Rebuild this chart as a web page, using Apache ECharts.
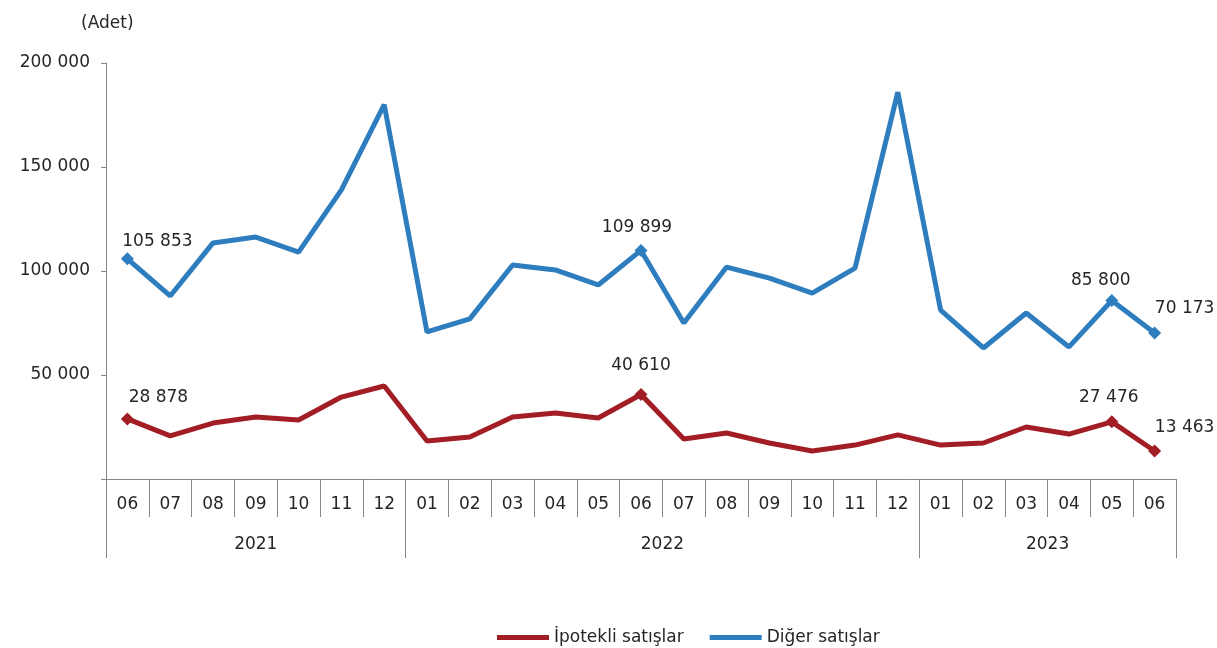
<!DOCTYPE html>
<html><head><meta charset="utf-8">
<script src="https://cdn.jsdelivr.net/npm/echarts@6/dist/echarts.min.js"></script>
<style>html,body{margin:0;padding:0;background:#fff}#c{width:1217px;height:648px}</style>
</head><body><div id="c"></div>
<script>
const months = ['06','07','08','09','10','11','12','01','02','03','04','05','06','07','08','09','10','11','12','01','02','03','04','05','06'];
const years = ['2021','2022','2023'];
const ipotekli = [28878,20700,26900,29800,28400,39400,44700,18300,20200,29800,31700,29300,40610,19200,22100,17300,13500,16300,21200,16300,17300,25000,21600,27476,13463];
const diger = [105853,88000,113500,116300,109100,139000,180000,70700,77000,102900,100500,93300,109899,75000,101900,96600,89400,101400,186000,81200,63000,79800,63500,85800,70173];
const labeledIdx = [0,12,23,24];
const seriesNames = ['İpotekli satışlar','Diğer satışlar'];

const FONT = 'DejaVu Sans';
const FS = 17;
const TXT = '#262626';
const AX = '#868686';
const fmt = v => String(v).replace(/\B(?=(\d{3})+(?!\d))/g, ' ');

// year boundaries derived from month labels
const starts = [0];
months.forEach((m,i)=>{ if(i>0 && m==='01') starts.push(i); });
const bounds = starts.concat([months.length]);
const halfCats = [];
for(let k=0;k<=months.length*2;k++) halfCats.push('');
const tickKs = bounds.map(b=>2*b);
years.forEach((y,i)=>{ halfCats[bounds[i]+bounds[i+1]] = y; });

const offsets = {
  diger: {0:[30,-17],12:[-4,-23],23:[-11,-20],24:[30,-24]},
  ipotekli: {0:[31,-21],12:[0,-29],23:[-3,-24],24:[30,-23]}
};
function buildData(arr, key){
  return arr.map((v,i)=>{
    if(labeledIdx.includes(i)){
      return {value:v, label:{show:true, position:'inside', offset:offsets[key][i], formatter:p=>fmt(p.value),
        color:TXT, fontFamily:FONT, fontSize:FS}};
    }
    return {value:v};
  });
}

const chart = echarts.init(document.getElementById('c'), null, {renderer:'canvas'});
chart.setOption({
  animation:false,
  backgroundColor:'#fff',
  title:{text:'(Adet)', left:76, top:10, textStyle:{fontFamily:FONT, fontSize:FS, fontWeight:'normal', color:TXT}},
  grid:{left:106, right:41, top:63, bottom:169, containLabel:false},
  legend:{left:492, top:624, itemWidth:52, itemHeight:5, itemGap:26,
    textStyle:{fontFamily:FONT, fontSize:FS, color:TXT},
    data:[{name:seriesNames[0], icon:'rect'},{name:seriesNames[1], icon:'rect'}]},
  xAxis:[{
    type:'category', data:months, boundaryGap:true, position:'bottom',
    axisLine:{show:true, lineStyle:{color:AX, width:1}},
    axisTick:{show:true, interval:0, length:38, lineStyle:{color:AX}},
    axisLabel:{interval:0, margin:17, color:TXT, fontFamily:FONT, fontSize:FS}
  },{
    type:'category', data:halfCats, boundaryGap:false, position:'bottom',
    axisLine:{show:false},
    axisTick:{show:true, length:79, interval:(i)=>tickKs.includes(i), lineStyle:{color:AX}},
    axisLabel:{interval:0, margin:57, color:TXT, fontFamily:FONT, fontSize:FS}
  }],
  yAxis:{type:'value', min:0, max:200000, interval:50000,
    axisLine:{show:true, lineStyle:{color:AX}},
    axisTick:{show:true, length:5, lineStyle:{color:AX}},
    splitLine:{show:false},
    axisLabel:{margin:16, color:TXT, fontFamily:FONT, fontSize:FS, formatter:v=> v===0 ? '' : fmt(v)}
  },
  series:[{
    name:seriesNames[0], type:'line', xAxisIndex:0, data:buildData(ipotekli,'ipotekli'),
    symbol:'diamond', showAllSymbol:true,
    symbolSize:(v,p)=> labeledIdx.includes(p.dataIndex) ? 13 : 0,
    lineStyle:{color:'#A31D24', width:5}, itemStyle:{color:'#A31D24'}, label:{show:false}
  },{
    name:seriesNames[1], type:'line', xAxisIndex:0, data:buildData(diger,'diger'),
    symbol:'diamond', showAllSymbol:true,
    symbolSize:(v,p)=> labeledIdx.includes(p.dataIndex) ? 13 : 0,
    lineStyle:{color:'#2E7EBF', width:5}, itemStyle:{color:'#2E7EBF'}, label:{show:false}
  }]
});
</script></body></html>
